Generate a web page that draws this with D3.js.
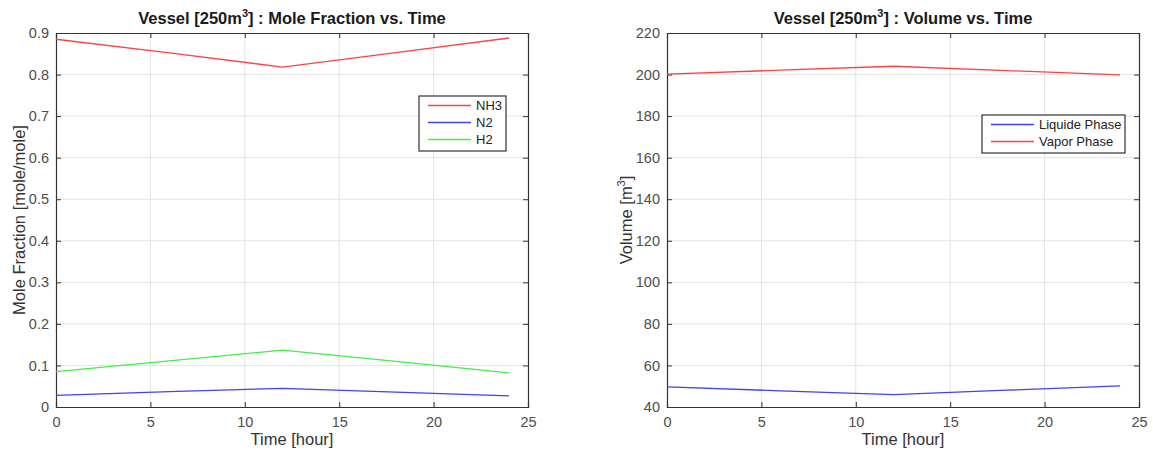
<!DOCTYPE html>
<html><head><meta charset="utf-8">
<script src="https://cdn.jsdelivr.net/npm/d3@7"></script>
<style>
body{margin:0;background:#fff;}
text{font-family:"Liberation Sans",Arial,sans-serif;}
</style></head>
<body><svg id="c" width="1153" height="452"></svg>
<script>
const hours = [0, 6, 12, 18, 24];
const nh3 = [0.885, 0.852, 0.818, 0.853, 0.888];
const n2 = [0.028, 0.037, 0.045, 0.036, 0.027];
const h2 = [0.085, 0.111, 0.137, 0.110, 0.082];
const liquid = [49.7, 47.8, 46.0, 48.1, 50.2];
const vapor = [200.2, 202.1, 204.0, 201.9, 199.8];
const xTicks = [0, 5, 10, 15, 20, 25];
const yTicksL = [0, 0.1, 0.2, 0.3, 0.4, 0.5, 0.6, 0.7, 0.8, 0.9];
const yTicksR = [40, 60, 80, 100, 120, 140, 160, 180, 200, 220];

const svg = d3.select("#c");
const RED = "#ff4040", BLUE = "#4040ff", GREEN = "#40f040";

function panel(o) {
  const g = svg.append("g");
  const x = d3.scaleLinear().domain([0, 25]).range([o.x0, o.x1]);
  const y = d3.scaleLinear().domain(o.yDom).range([o.y1, o.y0]);
  // grid
  g.append("g").selectAll("line").data(xTicks.slice(1, -1)).join("line")
    .attr("x1", d => x(d)).attr("x2", d => x(d)).attr("y1", o.y0).attr("y2", o.y1)
    .attr("stroke", "#e3e3e3").attr("stroke-width", 1);
  g.append("g").selectAll("line").data(o.yTicks.slice(1, -1)).join("line")
    .attr("y1", d => y(d)).attr("y2", d => y(d)).attr("x1", o.x0).attr("x2", o.x1)
    .attr("stroke", "#e3e3e3").attr("stroke-width", 1);
  // axes
  const ax = g.append("g").attr("transform", `translate(0,${o.y1})`)
    .call(d3.axisBottom(x).tickValues(xTicks).tickSize(-5).tickPadding(10).tickFormat(d3.format("d")));
  const ay = g.append("g").attr("transform", `translate(${o.x0},0)`)
    .call(d3.axisLeft(y).tickValues(o.yTicks).tickSize(-5).tickPadding(7).tickFormat(o.fmt));
  const axT = g.append("g").attr("transform", `translate(0,${o.y0})`)
    .call(d3.axisTop(x).tickValues(xTicks).tickSize(-5).tickFormat(""));
  const ayR = g.append("g").attr("transform", `translate(${o.x1},0)`)
    .call(d3.axisRight(y).tickValues(o.yTicks).tickSize(-5).tickFormat(""));
  [ax, ay, axT, ayR].forEach(a => {
    a.select(".domain").attr("stroke", "#333").attr("stroke-width", 1.2);
    a.selectAll(".tick line").attr("stroke", "#333");
    a.selectAll(".tick text").attr("fill", "#4d4d4d").style("font-size", "14.5px");
  });
  // lines
  o.series.forEach(s => {
    g.append("path").datum(s.v.map((v, i) => [hours[i], v]))
      .attr("fill", "none").attr("stroke", s.c).attr("stroke-width", 1.3)
      .attr("d", d3.line().x(d => x(d[0])).y(d => y(d[1])));
  });
  // title
  const t = g.append("text").attr("x", (o.x0 + o.x1) / 2).attr("y", 24)
    .attr("text-anchor", "middle").attr("fill", "#1a1a1a")
    .style("font-size", "16.5px").style("font-weight", "bold");
  t.append("tspan").text("Vessel [250m");
  t.append("tspan").text("3").attr("dy", -7).style("font-size", "11px");
  t.append("tspan").text("] : " + o.title).attr("dy", 7);
  // x label
  g.append("text").attr("x", (o.x0 + o.x1) / 2).attr("y", 445).attr("text-anchor", "middle")
    .attr("fill", "#333").style("font-size", "16.5px").text("Time [hour]");
  // y label
  const yl = g.append("text").attr("transform", `translate(${o.ylx},${(o.y0 + o.y1) / 2}) rotate(-90)`)
    .attr("text-anchor", "middle").attr("fill", "#333").style("font-size", "16.5px");
  yl.append("tspan").text(o.ylabel[0]);
  if (o.ylabel.length > 1) {
    yl.append("tspan").text(o.ylabel[1]).attr("dy", -7).style("font-size", "11px");
    yl.append("tspan").text(o.ylabel[2]).attr("dy", 7);
  }
  // legend
  const L = o.legend;
  g.append("rect").attr("x", L.x).attr("y", L.y).attr("width", L.w).attr("height", L.h)
    .attr("fill", "#fff").attr("stroke", "#333").attr("stroke-width", 1.2);
  o.series.forEach((s, i) => {
    const yy = L.y + 9.5 + i * 17;
    g.append("line").attr("x1", L.x + 9).attr("x2", L.x + 52).attr("y1", yy).attr("y2", yy)
      .attr("stroke", s.c).attr("stroke-width", 1.3);
    g.append("text").attr("x", L.x + 57).attr("y", yy + 4.5).attr("fill", "#222")
      .style("font-size", "13px").text(s.name);
  });
}

panel({x0: 56, x1: 528, y0: 33, y1: 407, yDom: [0, 0.9], yTicks: yTicksL,
  fmt: d => d === 0 ? "0" : d3.format(".1f")(d), title: "Mole Fraction vs. Time",
  ylabel: ["Mole Fraction [mole/mole]"], ylx: 25,
  legend: {x: 419, y: 96, w: 87, h: 55},
  series: [{name: "NH3", v: nh3, c: RED}, {name: "N2", v: n2, c: BLUE}, {name: "H2", v: h2, c: GREEN}]});

panel({x0: 667, x1: 1139, y0: 33, y1: 407, yDom: [40, 220], yTicks: yTicksR,
  fmt: d3.format("d"), title: "Volume vs. Time",
  ylabel: ["Volume [m", "3", "]"], ylx: 632,
  legend: {x: 982, y: 115, w: 143, h: 38},
  series: [{name: "Liquide Phase", v: liquid, c: BLUE}, {name: "Vapor Phase", v: vapor, c: RED}]});
</script></body></html>
